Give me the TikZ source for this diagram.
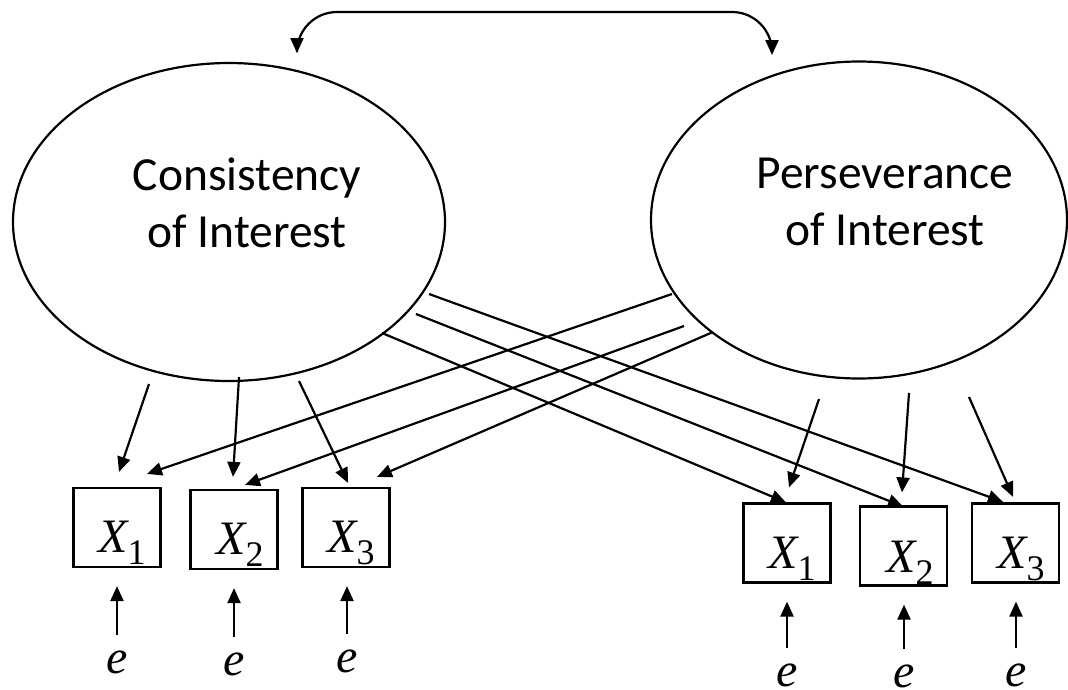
\documentclass[tikz,border=0pt]{standalone}
\usepackage{fontspec}
\setmainfont{Liberation Serif}
\newfontfamily\carlito{Carlito}
\usetikzlibrary{arrows.meta,shapes.geometric}

% observed variable: italic X with an upright subscript
\newcommand\obsvar[1]{X\raisebox{-12pt}{\fontsize{36}{36}\selectfont\upshape #1}}

\tikzset{
  latent/.style={ellipse, draw, line width=2.2pt, inner sep=0pt},
  manifest/.style={rectangle, draw, line width=2.2pt, minimum width=87pt, minimum height=79pt, inner sep=0pt},
  load/.style={-{Triangle[length=15pt,width=13pt]}, line width=2.2pt},
  cov/.style={{Triangle[length=15pt,width=13pt]}-{Triangle[length=15pt,width=13pt]}, line width=2.2pt, rounded corners=40pt},
  lbl/.style={font=\carlito\fontsize{47.5}{57}\selectfont, align=center, inner sep=0pt, anchor=base},
  var/.style={font=\fontsize{48}{48}\selectfont\itshape, inner sep=0pt, anchor=base},
  err/.style={load, shorten <=15.5pt, shorten >=18pt},
}

\begin{document}
\begin{tikzpicture}[x=1pt, y=-1pt]
\useasboundingbox (0,0) rectangle (1068,689);

% latent factors (label anchor sits on the baseline of the second line)
\node[latent, minimum width=432pt, minimum height=318pt] (CI) at (229,222) {};
\node[latent, minimum width=416pt, minimum height=317pt] (PI) at (859,220) {};
\node[lbl] (CItxt) at (247,247) {Consistency\\of Interest};
\node[lbl] (PItxt) at (885,245) {Perseverance\\of Interest};

% indicators
\node[manifest] (L1) at (117,527.5) {};
\node[manifest] (L2) at (234,529.5) {};
\node[manifest] (L3) at (346,527.5) {};
\node[manifest] (R1) at (787,543) {};
\node[manifest] (R2) at (903.5,546) {};
\node[manifest] (R3) at (1015.5,543) {};

\node[var] (L1t) at (122,552) {\obsvar{1}};
\node[var] (L2t) at (240,554) {\obsvar{2}};
\node[var] (L3t) at (351,552) {\obsvar{3}};
\node[var] (R1t) at (792,568) {\obsvar{1}};
\node[var] (R2t) at (910,572) {\obsvar{2}};
\node[var] (R3t) at (1021,568) {\obsvar{3}};

% error terms
\node[var] (eL1) at (117,673) {e};
\node[var] (eL2) at (234,675) {e};
\node[var] (eL3) at (347,672) {e};
\node[var] (eR1) at (787,686) {e};
\node[var] (eR2) at (904,687) {e};
\node[var] (eR3) at (1016,686) {e};

\foreach \b in {L1,L2,L3,R1,R2,R3}
  \draw[err] (e\b.north) -- (e\b.north |- \b.south);

% covariance between the factors
\coordinate (covL) at (297,53);
\coordinate (covR) at (772,55);
\coordinate (covTop) at (534,12);
\draw[cov] (covL) |- (covTop) -| (covR);

% loading start points
\coordinate (ca1) at (149,384);
\coordinate (ca2) at (239,377);
\coordinate (ca3) at (299,381);
\coordinate (cb1) at (382,333);
\coordinate (cb2) at (416,314);
\coordinate (cb3) at (429,294);
\coordinate (pa1) at (819,399);
\coordinate (pa2) at (909,393);
\coordinate (pa3) at (969,397);
\coordinate (pb1) at (672,294);
\coordinate (pb2) at (684,326);
\coordinate (pb3) at (713,332);

% loadings on own indicators
\draw[load] (ca1) -- ([shift={(2,-15)}]L1.north);
\draw[load] (ca2) -- ([shift={(-1,-12)}]L2.north);
\draw[load] (ca3) -- ([shift={(2,-4)}]L3.north);
\draw[load] (pa1) -- ([shift={(2,-15)}]R1.north);
\draw[load] (pa2) -- ([shift={(-1.5,-13)}]R2.north);
\draw[load] (pa3) -- ([shift={(-2.5,-5.5)}]R3.north);

% cross loadings
\draw[load] (cb1) -- ([shift={(-1,0)}]R1.north);
\draw[load] (cb2) -- ([shift={(-0.5,1)}]R2.north);
\draw[load] (cb3) -- ([shift={(-12.5,-0.5)}]R3.north);
\draw[load] (pb1) -- ([shift={(30,-13)}]L1.north);
\draw[load] (pb2) -- ([shift={(11,-4)}]L2.north);
\draw[load] (pb3) -- ([shift={(31,-10)}]L3.north);
\end{tikzpicture}
\end{document}
